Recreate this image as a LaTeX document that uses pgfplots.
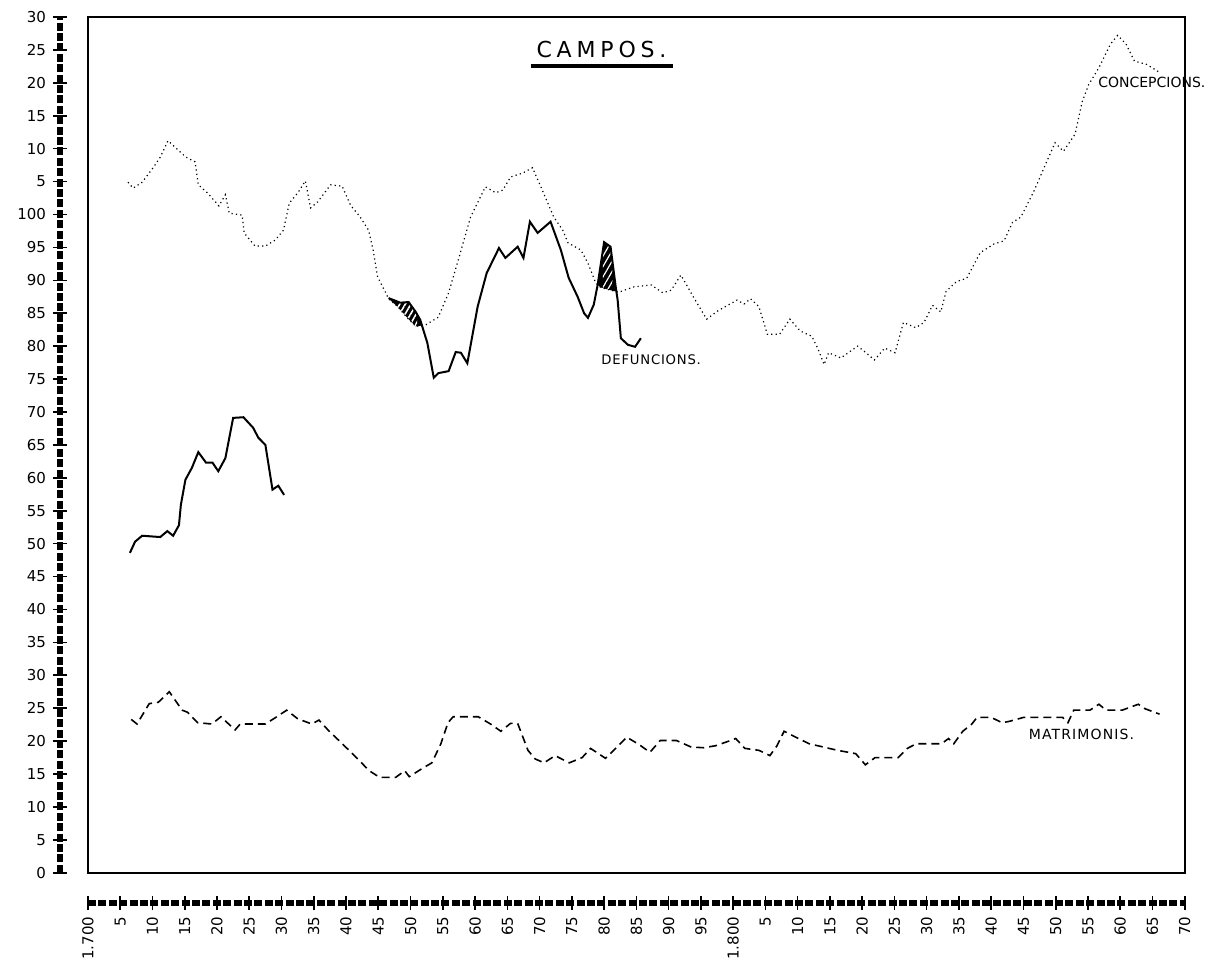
\documentclass[border=0pt]{standalone}
\usepackage{fontspec}
\setmainfont{DejaVu Sans}
\usepackage{pgfplots}
\pgfplotsset{compat=1.18}
\usepgfplotslibrary{fillbetween}
\usetikzlibrary{patterns.meta}

\pgfplotstableread{
x y
1706.2 104.9
1707.0 104.0
1708.4 104.9
1710.1 107.1
1711.2 108.7
1712.4 111.2
1715.2 108.7
1716.6 108.0
1717.1 104.5
1718.5 103.3
1720.3 101.3
1721.3 103.0
1721.9 100.2
1723.9 99.9
1724.2 97.2
1725.9 95.2
1727.5 95.2
1729.0 96.1
1730.3 97.6
1731.2 101.7
1732.6 103.4
1733.7 105.1
1734.5 101.0
1735.6 101.9
1737.6 104.5
1739.4 104.3
1740.7 101.4
1742.2 99.6
1743.5 97.6
1744.2 94.6
1744.9 90.5
1746.1 88.2
1746.6 87.2
1748.0 86.0
1749.5 84.3
1750.8 83.0
1752.3 83.2
1754.3 84.4
1755.9 88.1
1757.4 93.1
1759.3 99.6
1761.6 104.2
1763.2 103.3
1764.3 103.7
1765.5 105.7
1767.4 106.3
1768.9 107.1
1770.2 104.2
1772.2 99.6
1773.6 97.6
1774.4 95.7
1776.4 94.6
1777.5 92.6
1778.7 89.6
1779.5 88.9
1781.0 88.5
1782.3 88.2
1784.6 89.0
1787.3 89.3
1789.1 88.1
1790.4 88.5
1791.9 90.8
1794.0 87.2
1795.9 84.1
1797.7 85.4
1800.6 87.0
1801.7 86.4
1802.7 87.2
1804.0 86.0
1805.3 81.8
1807.2 81.8
1808.8 84.1
1810.4 82.3
1812.2 81.5
1813.2 79.5
1814.1 77.2
1814.8 79.0
1816.7 78.2
1819.3 80.0
1820.6 79.0
1821.9 77.9
1823.5 79.7
1825.1 79.0
1826.4 83.6
1828.3 82.8
1829.6 83.6
1830.9 86.2
1832.2 85.2
1833.0 88.3
1834.6 89.8
1836.2 90.3
1838.3 94.2
1840.4 95.5
1842.0 96.0
1843.3 98.8
1844.6 99.6
1846.7 103.7
1848.5 107.8
1849.9 110.9
1851.2 109.6
1853.0 112.2
1854.1 117.1
1855.1 119.7
1856.7 122.3
1858.5 125.9
1859.6 127.2
1860.9 125.9
1862.2 123.3
1864.1 122.8
1865.9 121.7
}\concepcions

\pgfplotstableread{
x y
1706.5 48.6
1707.3 50.3
1708.4 51.2
1711.2 51.0
1712.3 51.9
1713.2 51.2
1714.1 52.8
1714.4 55.9
1715.1 59.7
1716.1 61.5
1717.1 63.9
1718.3 62.3
1719.3 62.3
1720.2 61.0
1721.3 63.0
1722.5 69.1
1724.1 69.2
1725.6 67.6
1726.4 66.1
1727.5 65.0
1728.6 58.2
1729.5 58.8
1730.4 57.4
}\defuncionsA

\pgfplotstableread{
x y
1746.6 87.3
1748.4 86.6
1749.7 86.7
1750.8 85.2
1751.5 84.0
1752.6 80.5
1753.6 75.2
1754.3 75.9
1755.9 76.2
1757.0 79.1
1757.8 79.0
1758.8 77.4
1760.4 86.0
1761.8 91.1
1763.7 94.9
1764.7 93.4
1766.6 95.1
1767.5 93.4
1768.5 98.9
1769.7 97.2
1771.7 98.9
1773.3 94.6
1774.5 90.4
1775.9 87.5
1776.9 85.0
1777.5 84.3
1778.4 86.3
1779.0 89.3
1780.0 95.8
1781.0 95.1
1781.8 89.0
1782.1 87.0
1782.6 81.2
1783.7 80.2
1784.8 79.9
1785.7 81.2
}\defuncionsB

\pgfplotstableread{
x y
1706.7 23.3
1707.6 22.6
1709.5 25.7
1710.9 25.9
1712.6 27.5
1714.6 24.7
1715.4 24.4
1717.0 22.8
1719.2 22.6
1720.6 23.7
1722.8 21.7
1723.6 22.6
1727.5 22.6
1729.1 23.6
1730.8 24.7
1732.5 23.4
1734.7 22.6
1735.8 23.2
1737.2 21.7
1739.1 19.9
1741.3 17.8
1743.6 15.5
1745.2 14.5
1747.7 14.5
1749.1 15.5
1749.8 14.6
1751.9 15.9
1753.3 16.7
1754.7 19.6
1755.8 22.8
1756.6 23.7
1760.5 23.7
1762.4 22.6
1764.0 21.5
1765.5 22.7
1766.6 22.7
1768.2 18.6
1769.3 17.3
1770.7 16.7
1772.4 17.8
1774.6 16.7
1776.6 17.5
1777.9 18.9
1780.2 17.4
1781.5 18.6
1783.5 20.6
1785.4 19.5
1787.1 18.3
1788.7 20.1
1791.2 20.1
1793.5 19.1
1795.4 19.0
1797.3 19.3
1799.6 20.1
1800.4 20.4
1801.8 18.9
1804.0 18.6
1805.7 17.8
1806.8 19.3
1807.9 21.5
1810.1 20.4
1811.8 19.6
1816.2 18.6
1819.0 18.1
1820.5 16.4
1822.0 17.5
1825.6 17.5
1827.0 18.9
1828.4 19.6
1832.3 19.6
1833.4 20.4
1834.2 19.6
1835.6 21.5
1837.0 22.6
1837.8 23.6
1840.0 23.6
1841.7 22.8
1842.8 23.0
1845.0 23.6
1851.1 23.6
1851.9 22.8
1852.8 24.7
1855.3 24.7
1856.7 25.6
1857.8 24.7
1860.3 24.7
1862.8 25.6
1863.9 24.9
1866.1 24.1
}\matrimonis

\begin{document}
\begin{tikzpicture}
\begin{axis}[
  scale only axis, width=548.5pt, height=428pt,
  xmin=1700, xmax=1870, ymin=0, ymax=130,
  axis x line*=bottom, axis y line*=left,
  axis x line shift=15pt, axis y line shift=14pt,
  axis line style={-, line width=3pt, dash pattern=on 4pt off 1.2pt},
  xtick={1700,1705,...,1870},
  xticklabels={1.700,5,10,15,20,25,30,35,40,45,50,55,60,65,70,75,80,85,90,95,1.800,5,10,15,20,25,30,35,40,45,50,55,60,65,70},
  ytick={0,5,...,130},
  yticklabels={0,5,10,15,20,25,30,35,40,45,50,55,60,65,70,75,80,85,90,95,100,5,10,15,20,25,30},
  tick align=center, major tick length=7pt, tick style={black, line width=0.8pt},
  xticklabel style={rotate=90, anchor=east, font=\fontsize{7.5}{8}\selectfont},
  yticklabel style={font=\fontsize{7.5}{8}\selectfont},
  clip=false,
]
\draw[line width=1pt] (rel axis cs:0,0) rectangle (rel axis cs:1,1);
\path ([xshift=-44pt,yshift=-47.5pt]rel axis cs:0,0) rectangle ([xshift=13.5pt,yshift=8.5pt]rel axis cs:1,1);

\addplot[name path=conc, black, line width=0.6pt, dash pattern=on 0.6pt off 1.6pt] table {\concepcions};
\addplot[black, line width=1pt] table {\defuncionsA};
\addplot[name path=def, black, line width=1pt] table {\defuncionsB};
\addplot[black, line width=0.8pt, dash pattern=on 4pt off 2.5pt] table {\matrimonis};

\addplot[fill=black] fill between[of=def and conc, soft clip={domain=1746.6:1751.8}];
\addplot[fill=black] fill between[of=def and conc, soft clip={domain=1779.0:1781.9}];
\addplot[pattern={Lines[angle=60,distance=2.4pt,line width=0.8pt]}, pattern color=white] fill between[of=def and conc, soft clip={domain=1747.8:1751.0}];
\addplot[pattern={Lines[angle=60,distance=2.6pt,line width=0.6pt]}, pattern color=white] fill between[of=def and conc, soft clip={domain=1779.8:1781.3}];

\node[font=\fontsize{6.6}{8}\selectfont\addfontfeature{LetterSpace=6}] at (axis cs:1787.3,77.9) {DEFUNCIONS.};
\node[font=\fontsize{7}{8}\selectfont] at (axis cs:1864.9,120.0) {CONCEPCIONS.};
\node[font=\fontsize{7}{8}\selectfont\addfontfeature{LetterSpace=8}] at (axis cs:1854,21) {MATRIMONIS.};
\node[font=\fontsize{11}{12}\selectfont\addfontfeature{LetterSpace=22}] at (axis cs:1779.6,125) {CAMPOS.};
\draw[line width=2pt] (axis cs:1768.6,122.5) -- (axis cs:1790.7,122.5);
\end{axis}
\end{tikzpicture}
\end{document}
